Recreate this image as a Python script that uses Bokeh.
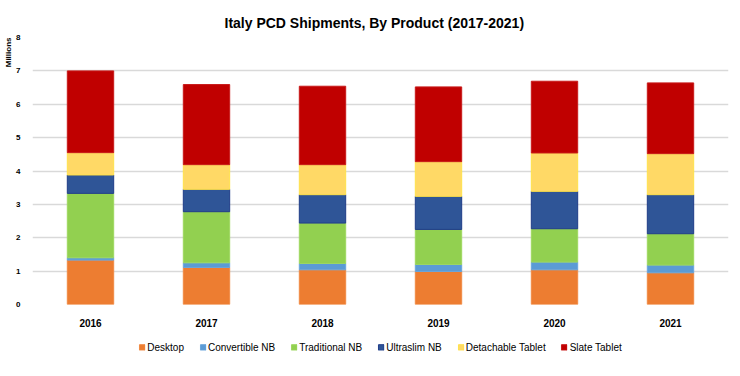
from bokeh.plotting import figure
from bokeh.models import ColumnDataSource, Title, Legend, FixedTicker
from bokeh.layouts import column
from bokeh.embed import file_html
from bokeh.resources import INLINE

years = ["2016", "2017", "2018", "2019", "2020", "2021"]
series = ["Desktop", "Convertible NB", "Traditional NB", "Ultraslim NB", "Detachable Tablet", "Slate Tablet"]
desktop = [1.33, 1.11, 1.04, 0.99, 1.04, 0.95]
convertible_nb = [0.07, 0.14, 0.19, 0.21, 0.23, 0.23]
traditional_nb = [1.93, 1.53, 1.21, 1.05, 1.00, 0.94]
ultraslim_nb = [0.55, 0.67, 0.85, 0.99, 1.12, 1.17]
detachable_tablet = [0.67, 0.74, 0.90, 1.04, 1.15, 1.23]
slate_tablet = [2.45, 2.40, 2.35, 2.24, 2.15, 2.12]
y_ticks = [0, 1, 2, 3, 4, 5, 6, 7, 8]

fill_colors = ["#ED7D31", "#5B9BD5", "#92D050", "#2F5597", "#FFD966", "#C00000"]
line_colors = ["#F08A44", "#6AA6DC", "#9ED85F", "#1F3C88", "#FFE24A", "#C81A1A"]

keys = ["desktop", "convertible", "traditional", "ultraslim", "detachable", "slate"]
source = ColumnDataSource(data=dict(
    years=years,
    desktop=desktop,
    convertible=convertible_nb,
    traditional=traditional_nb,
    ultraslim=ultraslim_nb,
    detachable=detachable_tablet,
    slate=slate_tablet,
))

FONT = "Liberation Sans"

# ---- main chart ----
p = figure(
    x_range=years, y_range=(0, 8),
    width=740, height=330,
    output_backend="svg", toolbar_location=None,
    min_border_left=28, min_border_right=12, min_border_top=37, min_border_bottom=26,
)
p.x_range.range_padding = 0

renderers = p.vbar_stack(keys, x="years", width=0.4, source=source,
                         fill_color=fill_colors, line_color=line_colors, line_width=1)

p.title.text = "Italy PCD Shipments, By Product (2017-2021)"
p.title.text_font = FONT
p.title.text_font_size = "14px"
p.title.text_font_style = "bold"
p.title.align = "left"
p.title.offset = 192
p.title.standoff = 14
p.title.text_color = "#000000"

p.add_layout(Title(text="Millions", align="right", text_font=FONT, text_font_size="8px",
                   text_font_style="bold", text_color="#000000", standoff=2), "left")

p.outline_line_color = None
p.xgrid.grid_line_color = None
p.ygrid.grid_line_color = "#D9D9D9"
p.ygrid.grid_line_width = 1.5

p.yaxis.ticker = FixedTicker(ticks=y_ticks)
p.yaxis.axis_line_color = None
p.yaxis.major_tick_line_color = None
p.yaxis.minor_tick_line_color = None
p.yaxis.major_label_text_font = FONT
p.yaxis.major_label_text_font_size = "8px"
p.yaxis.major_label_text_font_style = "bold"
p.yaxis.major_label_text_color = "#000000"
p.yaxis.major_label_standoff = 6

p.xaxis.axis_line_color = None
p.xaxis.major_tick_line_color = None
p.xaxis.minor_tick_line_color = None
p.xaxis.major_label_text_font = FONT
p.xaxis.major_label_text_font_size = "10px"
p.xaxis.major_label_text_font_style = "bold"
p.xaxis.major_label_text_color = "#000000"
p.xaxis.major_label_standoff = 8

# ---- legend strip (separate figure, bars kept out of view) ----
lg = figure(
    x_range=years, y_range=(100, 101),
    width=740, height=34,
    output_backend="svg", toolbar_location=None,
    x_axis_location=None, y_axis_location=None,
    min_border_left=28, min_border_right=12, min_border_top=0, min_border_bottom=0,
)
lg.outline_line_color = None
lg.grid.grid_line_color = None
lg_renderers = lg.vbar_stack(keys, x="years", width=0.4, source=source,
                             fill_color=fill_colors, line_color=line_colors, line_width=1)

legend = Legend(items=[(s, [r]) for s, r in zip(series, lg_renderers)],
                orientation="horizontal", location="center",
                glyph_width=7, glyph_height=7, label_standoff=2, spacing=15,
                padding=0, margin=0, border_line_color=None, background_fill_alpha=0,
                label_text_font=FONT, label_text_font_size="10px", label_text_color="#000000")
lg.add_layout(legend)

layout = column(p, lg, spacing=0)
open("out.html", "w").write(file_html(layout, INLINE))
